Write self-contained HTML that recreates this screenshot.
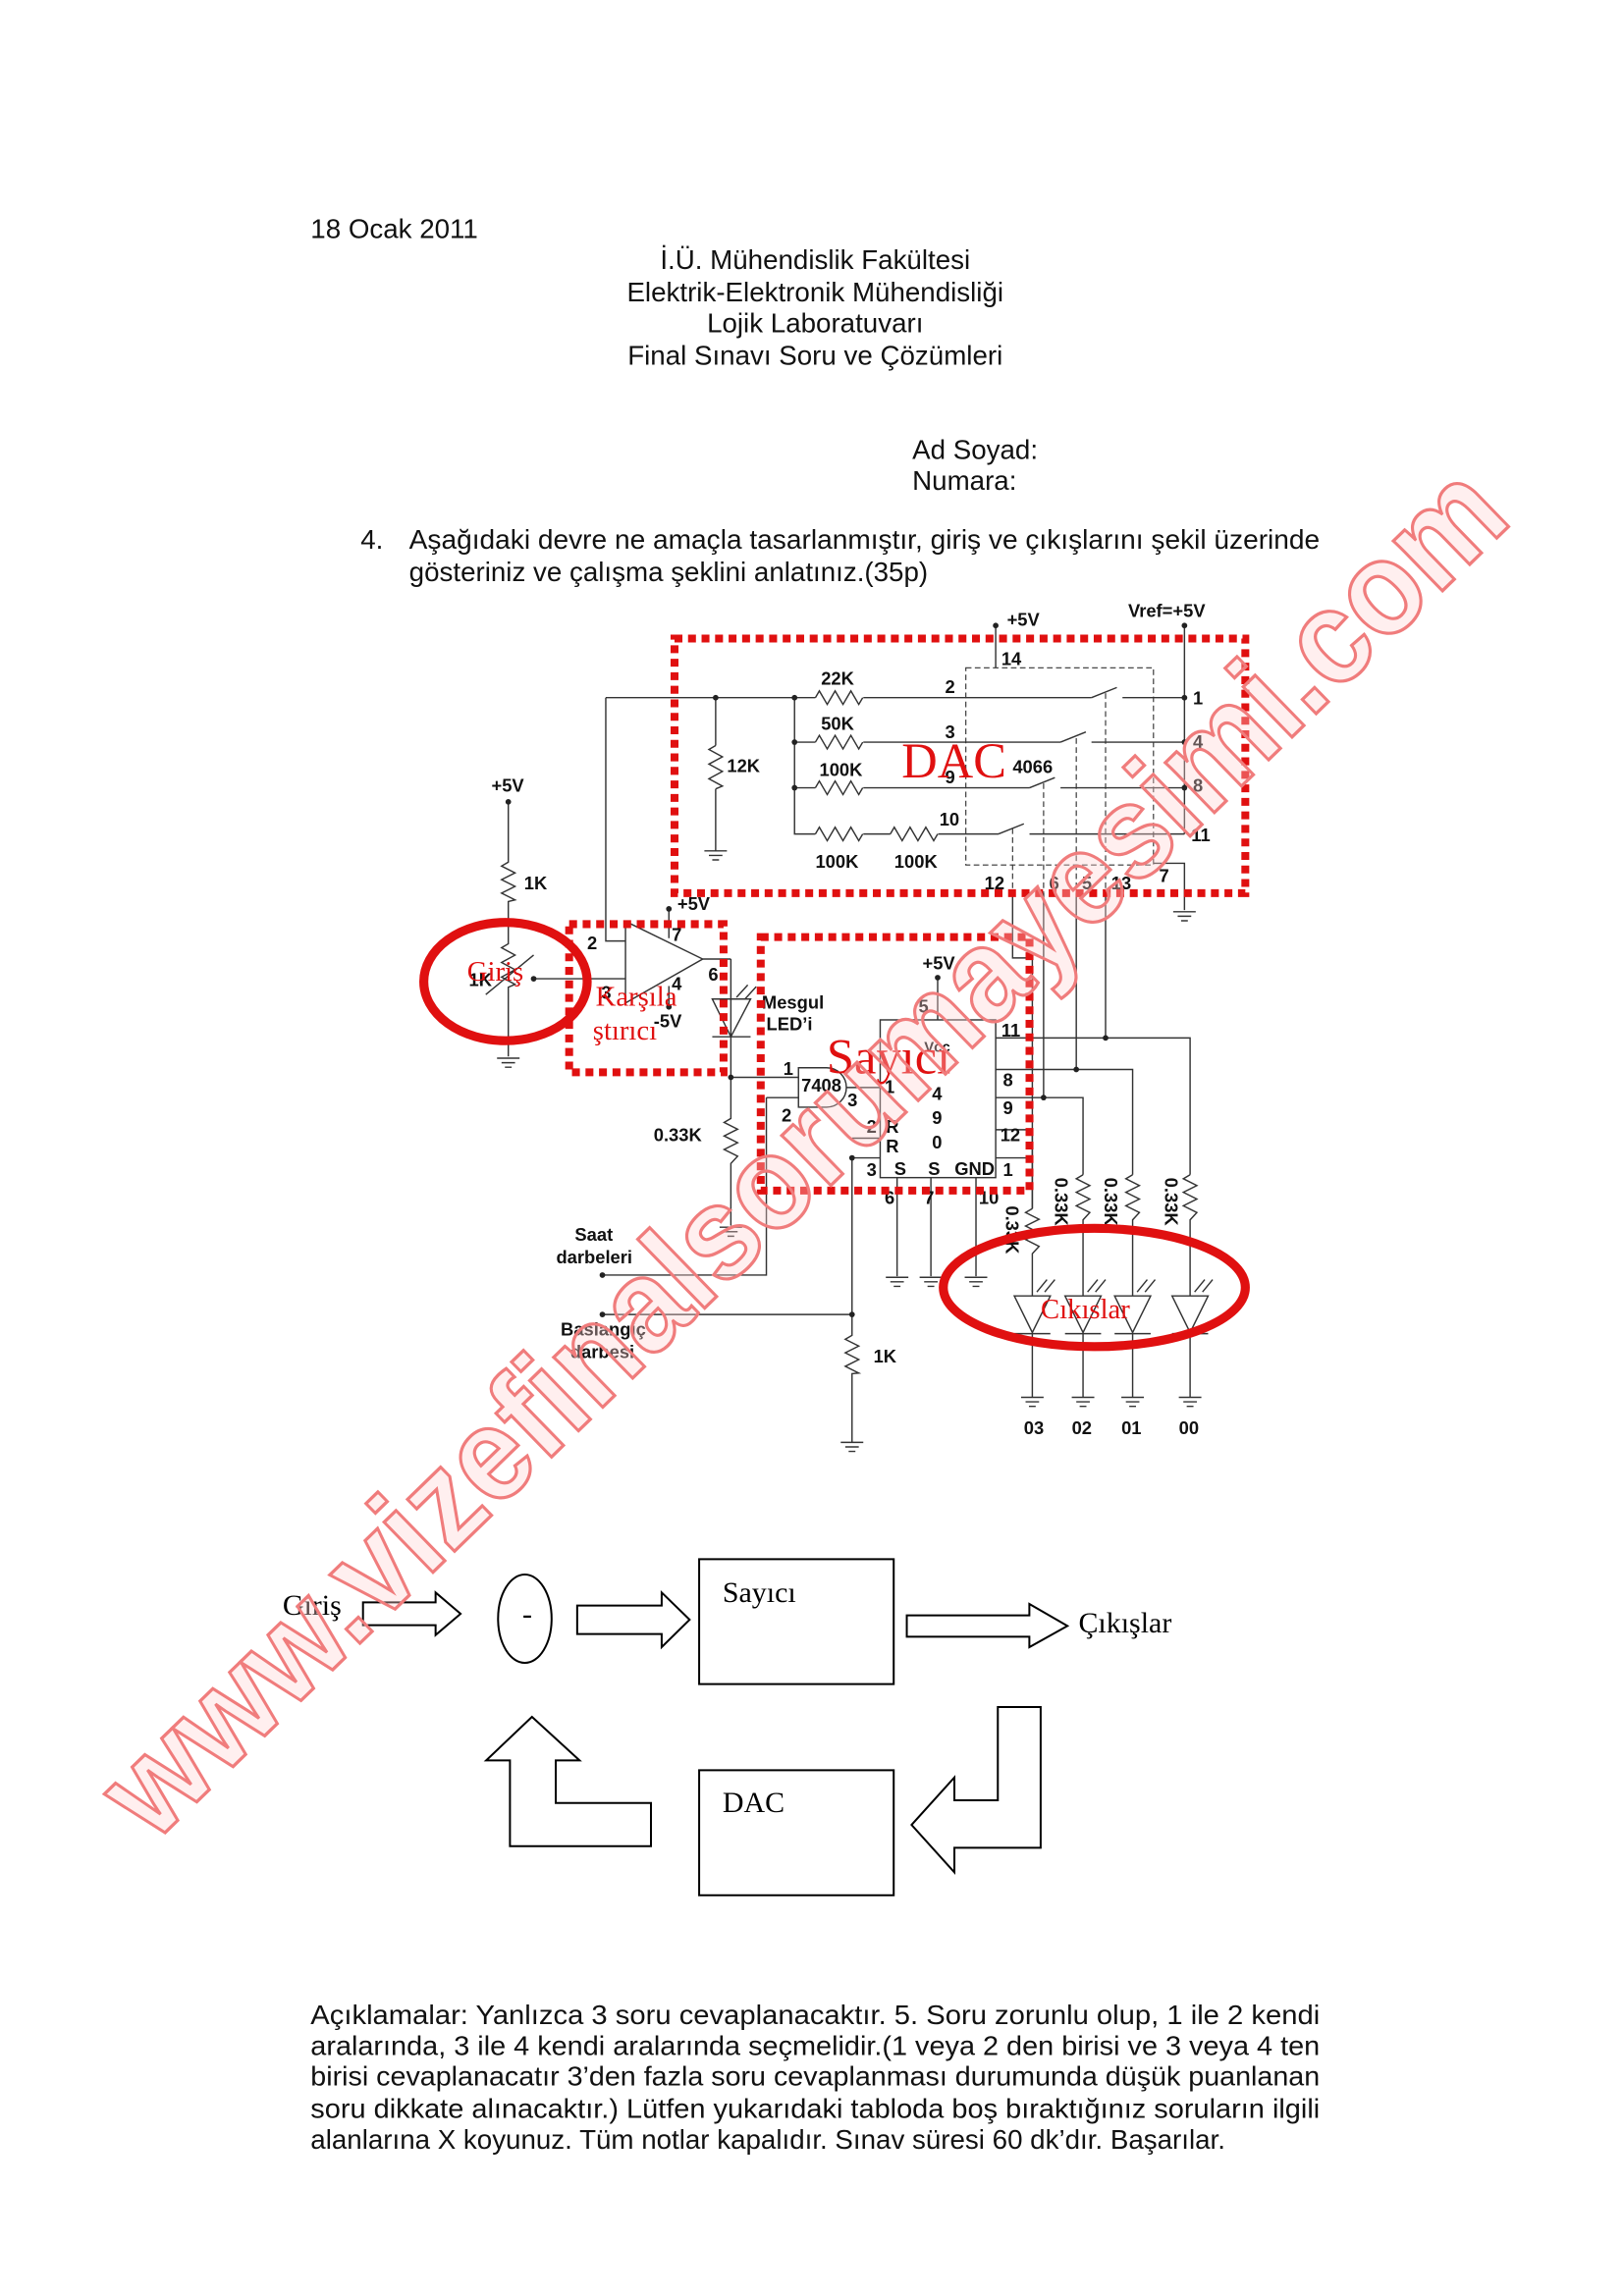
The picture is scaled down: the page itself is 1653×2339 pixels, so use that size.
<!DOCTYPE html>
<html><head><meta charset="utf-8"><style>
html,body{margin:0;padding:0;background:#fff}
svg{display:block}
</style></head><body>
<svg width="1653" height="2339" viewBox="0 0 1103 1561" xmlns="http://www.w3.org/2000/svg">
<rect width="1103" height="1561" fill="#fff"/>
<g font-family="Liberation Sans, sans-serif" font-size="18.5" fill="#111">
<text x="211" y="162">18 Ocak 2011</text>
<g text-anchor="middle">
<text x="554" y="183">İ.Ü. Mühendislik Fakültesi</text>
<text x="554" y="205">Elektrik-Elektronik Mühendisliği</text>
<text x="554" y="226">Lojik Laboratuvarı</text>
<text x="554" y="248">Final Sınavı Soru ve Çözümleri</text>
</g>
<text x="620" y="312">Ad Soyad:</text>
<text x="620" y="333">Numara:</text>
<text x="245" y="373">4.</text>
<text x="278" y="373" textLength="619" lengthAdjust="spacingAndGlyphs">Aşağıdaki devre ne amaçla tasarlanmıştır, giriş ve çıkışlarını şekil üzerinde</text>
<text x="278" y="395">gösteriniz ve çalışma şeklini anlatınız.(35p)</text>
<text x="211" y="1376" textLength="686" lengthAdjust="spacingAndGlyphs">Açıklamalar: Yanlızca 3 soru cevaplanacaktır. 5. Soru zorunlu olup, 1 ile 2 kendi</text>
<text x="211" y="1397" textLength="686" lengthAdjust="spacingAndGlyphs">aralarında, 3 ile 4 kendi aralarında seçmelidir.(1 veya 2 den birisi ve 3 veya 4 ten</text>
<text x="211" y="1418" textLength="686" lengthAdjust="spacingAndGlyphs">birisi cevaplanacatır 3’den fazla soru cevaplanması durumunda düşük puanlanan</text>
<text x="211" y="1440" textLength="686" lengthAdjust="spacingAndGlyphs">soru dikkate alınacaktır.) Lütfen yukarıdaki tabloda boş bıraktığınız soruların ilgili</text>
<text x="211" y="1461">alanlarına X koyunuz. Tüm notlar kapalıdır. Sınav süresi 60 dk’dır. Başarılar.</text>
</g>

<!-- circuit in zoom coords -->
<g transform="translate(280.3,400.4) scale(0.383)" fill="none" stroke="#333" stroke-width="2.5">
<path d="M343 193 H715 M800 193 H1205 M1260 193 H1370"/>
<path d="M343 193 V625 H378"/>
<path d="M538 193 V278 M538 355 V465"/>
<path d="M678 193 V435 H715 M678 272 H715 M678 353 H715"/>
<path d="M800 272 H1150 M1205 272 H1370 M800 353 H1095 M1150 353 H1370 M800 435 H848 M933 435 H1040 M1095 435 H1370"/>
<path d="M1370 65 V435"/>
<path d="M1035 65 V140"/>
<path d="M1315 487 H1370 V570"/>
<path d="M715 193 l7 -12 l14 24 l14 -24 l14 24 l14 -24 l14 24 l7 -12"/>
<path d="M715 272 l7 -12 l14 24 l14 -24 l14 24 l14 -24 l14 24 l7 -12"/>
<path d="M715 353 l7 -12 l14 24 l14 -24 l14 24 l14 -24 l14 24 l7 -12"/>
<path d="M715 435 l7 -12 l14 24 l14 -24 l14 24 l14 -24 l14 24 l7 -12"/>
<path d="M848 435 l7 -12 l14 24 l14 -24 l14 24 l14 -24 l14 24 l7 -12"/>
<path d="M538 278 l-12 7 l24 13 l-24 13 l24 13 l-24 13 l24 13 l-12 5"/>
<path d="M170 378 V485 l-12 7 l24 12 l-24 12 l24 12 l-24 12 l24 12 l-12 3 V630 l-12 7 l24 13 l-24 13 l24 13 l-24 13 l24 13 l-12 5 V830"/>
<path d="M565 657 V940 l-12 7 l24 12 l-24 12 l24 12 l-24 12 l24 12 l-12 13 V1130"/>
<path d="M780 1010 V1325 l-12 7 l24 12 l-24 12 l24 12 l-24 12 l24 12 l-12 1 V1515"/>
<path d="M130 720 L215 650 M120 700 l5 -12 M215 692 H378"/>
<path d="M1205 193 L1250 175 M1150 272 L1195 254 M1095 353 L1140 335 M1040 435 L1085 417"/>
<path d="M982 140 H1315 V490 H982 Z" stroke-dasharray="10 6" stroke-width="2"/>
<path d="M1230 185 V540 M1178 265 V540 M1120 345 V540 M1065 425 V540" stroke-dasharray="10 6" stroke-width="2"/>
<path d="M1230 540 V797 M1178 540 V853 M1120 540 V903 M1065 540 V655 H1100 V1100"/>
<path d="M378 590 V735 L515 657 Z"/>
<path d="M455 568 V620 M455 705 V742 M515 657 H565"/>
<path d="M532 728 H600 L565 795 Z M532 795 H600"/>
<path d="M575 725 l20 -22 M590 728 l20 -22"/>
<path d="M685 850 H735 A35 35 0 0 1 735 920 H685 Z"/>
<path d="M565 867 H685 M628 903 H685 M628 903 V1218 H337 M770 885 H830"/>
<path d="M337 1288 H780 M780 975 H830 M780 1010 H830"/>
<rect x="830" y="765" width="205" height="280"/>
<path d="M932 690 V765 M860 1045 V1220 M920 1045 V1220 M1000 1045 V1220"/>
<path d="M1035 797 H1380 V1040 M1035 853 H1278 V1040 M1035 903 H1190 V1040 M1035 960 H1100 V1100 M1035 1010 H1100"/>
<path d="M1380 1040 l-12 7 l24 12 l-24 12 l24 12 l-24 12 l24 12 l-12 13 V1255"/>
<path d="M1278 1040 l-12 7 l24 12 l-24 12 l24 12 l-24 12 l24 12 l-12 13 V1255"/>
<path d="M1190 1040 l-12 7 l24 12 l-24 12 l24 12 l-24 12 l24 12 l-12 13 V1255"/>
<path d="M1100 1100 l-12 7 l24 12 l-24 12 l24 12 l-24 12 l24 12 l-12 13 V1255"/>
<path d="M1068 1255 H1132 L1100 1320 Z M1068 1322 H1132 M1100 1320 V1435"/>
<path d="M1158 1255 H1222 L1190 1320 Z M1158 1322 H1222 M1190 1320 V1435"/>
<path d="M1246 1255 H1310 L1278 1320 Z M1246 1322 H1310 M1278 1320 V1435"/>
<path d="M1348 1255 H1412 L1380 1320 Z M1348 1322 H1412 M1380 1320 V1435"/>
<path d="M1108 1248 l18 -22 M1122 1248 l18 -22 M1198 1248 l18 -22 M1212 1248 l18 -22 M1286 1248 l18 -22 M1300 1248 l18 -22 M1388 1248 l18 -22 M1402 1248 l18 -22"/>
<g>
<path d="M518 465 H558 M526 473 H550 M532 481 H544"/>
<path d="M1350 573 H1390 M1358 581 H1382 M1364 589 H1376"/>
<path d="M150 833 H190 M158 841 H182 M164 849 H176"/>
<path d="M545 1133 H585 M553 1141 H577 M559 1149 H571"/>
<path d="M840 1222 H880 M848 1230 H872 M854 1238 H866"/>
<path d="M900 1222 H940 M908 1230 H932 M914 1238 H926"/>
<path d="M980 1222 H1020 M988 1230 H1012 M994 1238 H1006"/>
<path d="M1080 1435 H1120 M1088 1443 H1112 M1094 1451 H1106"/>
<path d="M1170 1435 H1210 M1178 1443 H1202 M1184 1451 H1196"/>
<path d="M1258 1435 H1298 M1266 1443 H1290 M1272 1451 H1284"/>
<path d="M1360 1435 H1400 M1368 1443 H1392 M1374 1451 H1386"/>
<path d="M760 1515 H800 M768 1523 H792 M774 1531 H786"/>
</g>
<g fill="#222" stroke="none">
<circle cx="538" cy="193" r="5"/><circle cx="678" cy="193" r="5"/><circle cx="678" cy="272" r="5"/><circle cx="678" cy="353" r="5"/>
<circle cx="1370" cy="193" r="5"/><circle cx="1370" cy="272" r="5"/><circle cx="1370" cy="353" r="5"/>
<circle cx="1370" cy="65" r="5"/><circle cx="1035" cy="65" r="5"/><circle cx="170" cy="378" r="5"/>
<circle cx="455" cy="568" r="5"/><circle cx="455" cy="742" r="5"/><circle cx="565" cy="867" r="5"/>
<circle cx="932" cy="690" r="5"/><circle cx="1230" cy="797" r="5"/><circle cx="1178" cy="853" r="5"/><circle cx="1120" cy="903" r="5"/>
<circle cx="780" cy="1010" r="5"/><circle cx="780" cy="1288" r="5"/><circle cx="337" cy="1218" r="5"/><circle cx="337" cy="1288" r="5"/><circle cx="215" cy="692" r="5"/>
</g>
<g fill="#111" stroke="none" font-family="Liberation Sans, sans-serif" font-weight="bold" font-size="32">
<text x="1055" y="65">+5V</text><text x="1270" y="50">Vref=+5V</text>
<text x="1045" y="135">14</text>
<text x="725" y="170">22K</text><text x="725" y="250">50K</text><text x="722" y="332">100K</text>
<text x="558" y="325">12K</text><text x="715" y="495">100K</text><text x="855" y="495">100K</text>
<text x="945" y="185">2</text><text x="945" y="265">3</text><text x="945" y="345">9</text><text x="935" y="420">10</text>
<text x="1385" y="205">1</text><text x="1385" y="282">4</text><text x="1385" y="360">8</text><text x="1382" y="448">11</text>
<text x="1065" y="327">4066</text>
<text x="1015" y="533">12</text><text x="1130" y="533">6</text><text x="1188" y="533">5</text><text x="1240" y="533">13</text><text x="1325" y="520">7</text>
<text x="140" y="360">+5V</text><text x="198" y="533">1K</text><text x="100" y="705">1K</text>
<text x="470" y="570">+5V</text><text x="428" y="778">-5V</text>
<text x="310" y="640">2</text><text x="335" y="728">3</text><text x="460" y="625">7</text><text x="460" y="712">4</text><text x="525" y="695">6</text>
<text x="620" y="745">Mesgul</text><text x="628" y="783">LED’i</text>
<text x="905" y="675">+5V</text><text x="898" y="752">5</text>
<text x="690" y="892">7408</text><text x="658" y="863">1</text><text x="655" y="945">2</text><text x="772" y="918">3</text>
<text x="428" y="980">0.33K</text>
<text x="1045" y="795">11</text><text x="1048" y="883">8</text><text x="1048" y="932">9</text><text x="1043" y="980">12</text><text x="1048" y="1042">1</text>
<text x="838" y="895">1</text><text x="922" y="907">4</text><text x="922" y="950">9</text><text x="922" y="993">0</text>
<text x="840" y="965">R</text><text x="840" y="1000">R</text><text x="806" y="965">2</text><text x="806" y="1042">3</text>
<text x="855" y="1040">S</text><text x="915" y="1040">S</text><text x="962" y="1040">GND</text>
<text x="908" y="822" font-size="26">Vcc</text>
<text x="838" y="1092">6</text><text x="908" y="1092">7</text><text x="1005" y="1092">10</text>
<text x="288" y="1157">Saat</text><text x="255" y="1197">darbeleri</text>
<text x="263" y="1325">Baslangiç</text><text x="280" y="1365">darbesi</text>
<text x="818" y="1373">1K</text>
<text x="1085" y="1500">03</text><text x="1170" y="1500">02</text><text x="1258" y="1500">01</text><text x="1360" y="1500">00</text>
<text transform="translate(1140,1045) rotate(90)">0.33K</text>
<text transform="translate(1228,1045) rotate(90)">0.33K</text>
<text transform="translate(1335,1045) rotate(90)">0.33K</text>
<text transform="translate(1053,1095) rotate(90)">0.33K</text>
</g>
<g stroke="#e01010" stroke-width="14" stroke-dasharray="14 10">
<rect x="465" y="88" width="1013" height="452"/>
<rect x="278" y="595" width="274" height="263"/>
<rect x="618" y="618" width="477" height="450"/>
</g>
<ellipse cx="165" cy="697" rx="145" ry="105" stroke="#e01010" stroke-width="16"/>
<ellipse cx="1210" cy="1240" rx="268" ry="105" stroke="#e01010" stroke-width="16"/>
<g fill="#e01010" stroke="none" font-family="Liberation Serif, serif">
<text x="868" y="335" font-size="88">DAC</text>
<text x="97" y="695" font-size="50">Giriş</text>
<text x="325" y="740" font-size="50">Karşıla</text>
<text x="320" y="800" font-size="50">ştırıcı</text>
<text x="735" y="860" font-size="88">Sayıcı</text>
<text x="1115" y="1295" font-size="50">Cıkıslar</text>
</g>
</g>

<!-- block diagram -->
<g transform="translate(186.8,1046) scale(0.4044,0.2225)" fill="none" stroke="#000" stroke-width="6" vector-effect="non-scaling-stroke">
<polygon vector-effect="non-scaling-stroke" stroke-width="2" points="148,195 270,195 270,165 312,230 270,295 270,265 148,265"/>
<ellipse vector-effect="non-scaling-stroke" stroke-width="2" cx="420" cy="245" rx="45" ry="135"/>
<polygon vector-effect="non-scaling-stroke" stroke-width="2" points="508,205 650,205 650,165 697,248 650,332 650,292 508,292"/>
<rect vector-effect="non-scaling-stroke" stroke-width="2" x="713" y="63" width="327" height="382"/>
<polygon vector-effect="non-scaling-stroke" stroke-width="2" points="1062,235 1268,235 1268,200 1332,267 1268,332 1268,300 1062,300"/>
<polygon vector-effect="non-scaling-stroke" stroke-width="2" points="1215,515 1287,515 1287,945 1142,945 1142,1020 1070,875 1142,730 1142,800 1215,800"/>
<rect vector-effect="non-scaling-stroke" stroke-width="2" x="713" y="708" width="327" height="382"/>
<polygon vector-effect="non-scaling-stroke" stroke-width="2" points="632,808 632,940 395,940 395,678 355,678 432,545 512,678 472,678 472,808"/>
</g>
<g fill="#000" font-family="Liberation Serif, serif" font-size="20">
<text x="192" y="1098">Giriş</text>
<text x="355" y="1104">-</text>
<text x="491" y="1089">Sayıcı</text>
<text x="733" y="1110">Çıkışlar</text>
<text x="491" y="1232">DAC</text>
</g>

<!-- watermark -->
<text x="0" y="0" transform="translate(550,787) rotate(-44.2)" text-anchor="middle" dominant-baseline="middle" font-family="Liberation Sans, sans-serif" font-weight="bold" font-size="90" textLength="1290" lengthAdjust="spacingAndGlyphs" fill="rgba(255,210,210,0.35)" stroke="#f07c7c" stroke-width="2.2">www.vizefinalsorumayesimi.com</text>
</svg>
</body></html>
